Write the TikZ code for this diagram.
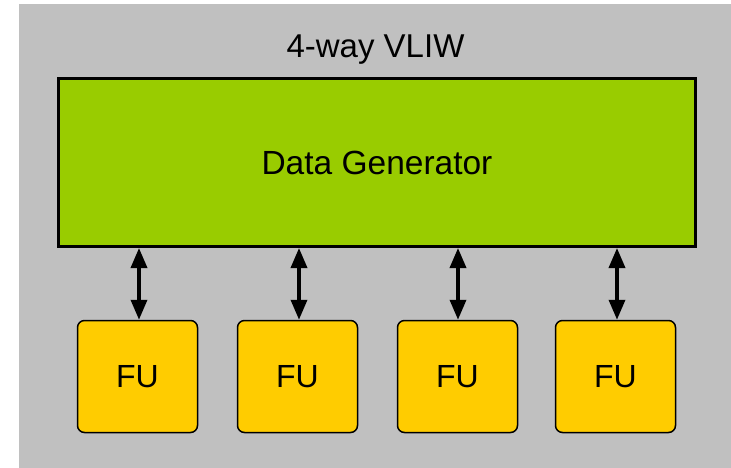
\documentclass[tikz,border=0pt]{standalone}
\usepackage{fontspec}
\setmainfont{Liberation Sans}
\usetikzlibrary{arrows.meta}
\definecolor{bggray}{HTML}{C0C0C0}
\definecolor{dggreen}{HTML}{99CC00}
\definecolor{fuyellow}{HTML}{FFCC00}
\tikzset{
  genbox/.style={draw=black, line width=3pt, fill=dggreen, minimum width=637pt, minimum height=168pt, inner sep=0pt, font=\fontsize{33.5}{38}\selectfont},
  fubox/.style={draw=black, line width=1.5pt, fill=fuyellow, rounded corners=7pt, minimum width=120pt, minimum height=112pt, inner sep=0pt, font=\fontsize{32}{36}\selectfont},
  link/.style={line width=3.5pt, {Triangle[length=20pt,width=16pt]}-{Triangle[length=20pt,width=16pt]}}
}
\begin{document}
\begin{tikzpicture}[x=1pt,y=-1pt]
\useasboundingbox (0,0) rectangle (731,468);
\fill[bggray] (19,4) rectangle (731,468);
\node[anchor=base, font=\fontsize{33}{38}\selectfont] (title) at (375.5,58) {4-way VLIW};
\node[genbox] (gen) at (377,162.5) {Data Generator};
\node[fubox] (fu1) at (137.5,376.5) {FU};
\node[fubox] (fu2) at (297.5,376.5) {FU};
\node[fubox] (fu3) at (457.5,376.5) {FU};
\node[fubox] (fu4) at (615.5,376.5) {FU};
\foreach \i/\x in {1/139,2/299,3/458,4/617}{
  \draw[link] (gen.south -| \x,0) -- (fu\i.north -| \x,0);
}
\end{tikzpicture}
\end{document}
